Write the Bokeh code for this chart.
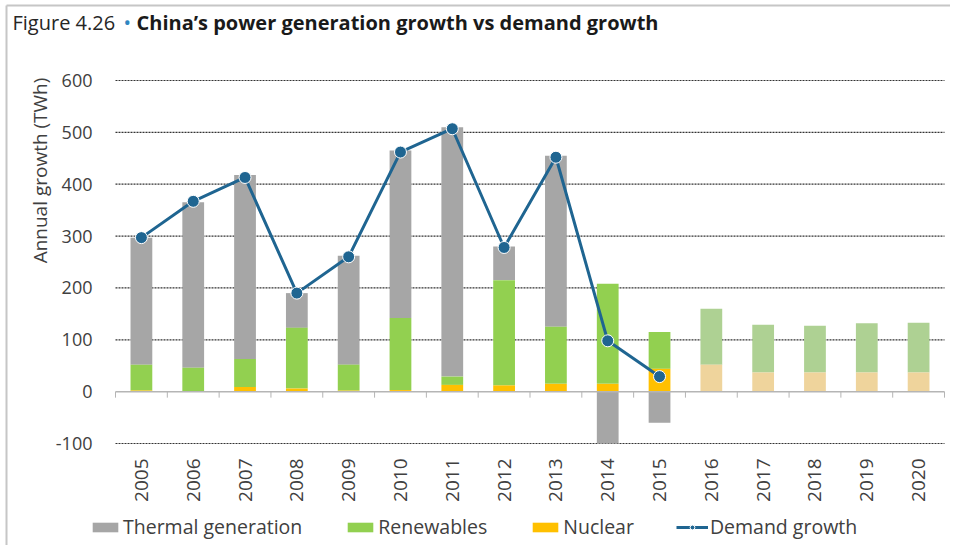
import math
from bokeh.plotting import figure
from bokeh.models import ColumnDataSource, Legend, LegendItem, Range1d
from bokeh.core.properties import value
from bokeh.embed import file_html
from bokeh.resources import INLINE

# ---- data ----
years = [2005, 2006, 2007, 2008, 2009, 2010, 2011, 2012, 2013, 2014, 2015,
         2016, 2017, 2018, 2019, 2020]
thermal = [245, 319, 355, 67, 210, 323, 481, 65, 330, -100, -60, 0, 0, 0, 0, 0]
renewables = [50, 45, 54, 117, 50, 139, 16, 203, 110, 193, 71, 108, 92, 90, 95, 96]
nuclear = [2, 1, 9, 6, 2, 3, 13, 12, 15, 15, 44, 52, 37, 37, 37, 37]
demand_years = [2005, 2006, 2007, 2008, 2009, 2010, 2011, 2012, 2013, 2014, 2015]
demand = [297, 367, 413, 190, 260, 462, 507, 278, 452, 98, 29]
last_actual_year = 2015
y_ticks = [-100, 0, 100, 200, 300, 400, 500, 600]
title_parts = ["Figure 4.26", "\u2022", "China\u2019s power generation growth vs demand growth"]
y_title = "Annual growth (TWh)"
legend_labels = ["Thermal generation", "Renewables", "Nuclear", "Demand growth"]

# ---- style / layout ----
FONT = "Open Sans"
GRAY = "#A6A6A6"
GREEN = "#92D050"
GREEN_P = "#AED193"
ORANGE = "#FFC000"
ORANGE_P = "#EFD49C"
BLUE = "#1F6591"
TXT = "#404040"
WID, HEI = 950, 545
PX_L, PX_R, PX_T, PX_B = 115, 944, 80, 443      # plot area in canvas pixels

n = len(years)
y_min, y_max = min(y_ticks), max(y_ticks)
sx = n / (PX_R - PX_L)                      # data units per pixel (x)
ky = (y_max - y_min) / (PX_B - PX_T)        # data units per pixel (y)
x_lo = -0.5 - PX_L * sx
x_hi = n - 0.5 + (WID - PX_R) * sx
y_hi = y_max + PX_T * ky
y_lo = y_min - (HEI - PX_B) * ky

idx = list(range(n))
proj = [y > last_actual_year for y in years]
ren_top = [a + b for a, b in zip(nuclear, renewables)]
th_bot = [rt if t >= 0 else 0 for rt, t in zip(ren_top, thermal)]
th_top = [rt + t if t >= 0 else t for rt, t in zip(ren_top, thermal)]

src = ColumnDataSource(dict(
    x=idx,
    nuc_bot=[0] * n, nuc_top=nuclear,
    ren_bot=nuclear, ren_top=ren_top,
    th_bot=th_bot, th_top=th_top,
    g_col=[GREEN_P if q else GREEN for q in proj],
    o_col=[ORANGE_P if q else ORANGE for q in proj],
))
dsrc = ColumnDataSource(dict(x=[years.index(y) for y in demand_years], y=demand))

p = figure(width=WID, height=HEI, output_backend="svg", toolbar_location=None,
           x_range=Range1d(x_lo, x_hi), y_range=Range1d(y_lo, y_hi),
           x_axis_type=None, y_axis_type=None, min_border=0,
           outline_line_color=None)

# page frame lines (top and left), as in the reference
def fx(px):
    return x_lo + px * sx

def fy(py):
    return y_hi - py * ky

p.segment(x0=[fx(6), fx(6)], y0=[fy(5), fy(5)], x1=[fx(WID), fx(6)], y1=[fy(5), fy(HEI)],
          line_color="#C6C6C6", line_width=2)

# dotted gridlines (value axis)
grid_vals = [v for v in y_ticks if v != 0]
p.segment(x0=[-0.5] * len(grid_vals), x1=[n - 0.5] * len(grid_vals),
          y0=grid_vals, y1=grid_vals, line_color="#333333", line_width=1.2,
          line_dash="2 1")

# value-axis tick labels
p.text(x=[-0.5] * len(y_ticks), y=y_ticks, text=[str(v) for v in y_ticks],
       x_offset=-23, text_align="right", text_baseline="middle",
       text_font=value(FONT), text_font_size="18px", text_color=TXT)

# category labels (rotated)
p.text(x=idx, y=[y_min] * n, text=[str(y) for y in years], angle=math.pi / 2,
       y_offset=15, text_align="right", text_baseline="middle",
       text_font=value(FONT), text_font_size="19px", text_color=TXT)

# axis title
p.text(x=[-0.5], y=[y_max], text=[y_title], angle=math.pi / 2,
       x_offset=-76, y_offset=90, text_align="center", text_baseline="middle",
       text_font=value(FONT), text_font_size="19px", text_color=TXT)

# chart title in three styles
p.text(x=[-0.5], y=[y_max], text=[title_parts[0]], x_offset=-103, y_offset=-58,
       text_baseline="middle", text_font=value(FONT), text_font_size="20px",
       text_color="#262626")
p.text(x=[-0.5], y=[y_max], text=[title_parts[1]], x_offset=8, y_offset=-58,
       text_baseline="middle", text_font=value(FONT), text_font_size="20px",
       text_color="#2E86C1")
p.text(x=[-0.5], y=[y_max], text=[title_parts[2]], x_offset=21, y_offset=-58,
       text_baseline="middle", text_font=value(FONT), text_font_size="20px",
       text_font_style="bold", text_color="#1A1A1A")

# stacked bars
W = 0.42
r_th = p.vbar(x="x", bottom="th_bot", top="th_top", width=W, source=src,
              fill_color=GRAY, line_color=None)
r_ren = p.vbar(x="x", bottom="ren_bot", top="ren_top", width=W, source=src,
               fill_color="g_col", line_color=None)
r_nuc = p.vbar(x="x", bottom="nuc_bot", top="nuc_top", width=W, source=src,
               fill_color="o_col", line_color=None)

# zero (category) axis line with tick marks between categories
p.segment(x0=[-0.5], x1=[n - 0.5], y0=[0], y1=[0], line_color="#B5B5B5", line_width=1.5)
bounds = [i - 0.5 for i in idx] + [n - 0.5]
p.segment(x0=bounds, x1=bounds, y0=[0] * len(bounds), y1=[-6 * ky] * len(bounds),
          line_color="#B5B5B5", line_width=1)

# demand growth line
r_line = p.line(x="x", y="y", source=dsrc, line_color=BLUE, line_width=3)
r_pts = p.scatter(x="x", y="y", source=dsrc, size=12, fill_color=BLUE,
                  line_color="white", line_width=1)

legend = Legend(items=[
    LegendItem(label=legend_labels[0], renderers=[r_th], index=0),
    LegendItem(label=legend_labels[1], renderers=[r_ren], index=0),
    LegendItem(label=legend_labels[2], renderers=[r_nuc], index=0),
    LegendItem(label=legend_labels[3], renderers=[r_line, r_pts]),
], orientation="horizontal", location=(89, 5), padding=0, margin=0,
    spacing=42, label_standoff=2, glyph_width=32, glyph_height=12,
    label_text_font=FONT, label_text_font_size="19.5px", label_text_color=TXT,
    border_line_color=None, background_fill_alpha=0)
p.add_layout(legend)

open("out.html", "w").write(file_html(p, INLINE))
